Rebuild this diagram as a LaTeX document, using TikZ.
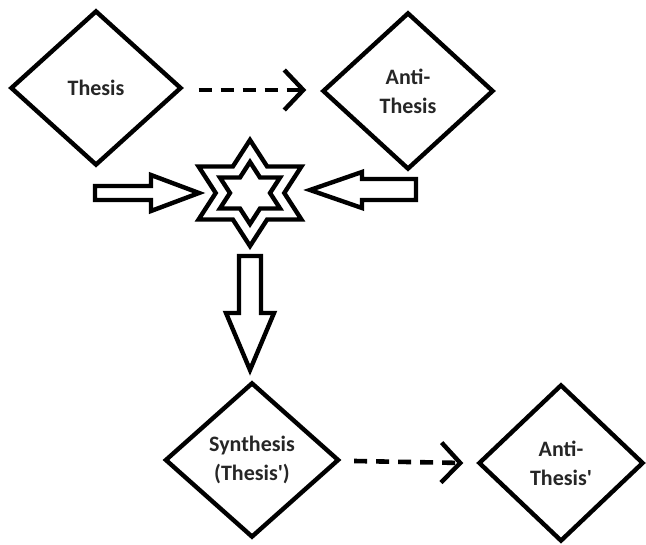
\documentclass[tikz,border=0pt]{standalone}
\usepackage{fontspec}
\setmainfont{Carlito}[Ligatures=TeXOff]
\usetikzlibrary{arrows.meta,shapes.geometric,calc}
\begin{document}
\begin{tikzpicture}[x=1pt,y=-1pt,
  dia/.style={diamond,draw=black,line width=4.4pt,inner sep=0pt,align=center,
    font=\fontsize{22}{29}\selectfont\bfseries,text=black!85},
  dasharrow/.style={line width=4.6pt,dash pattern=on 13pt off 9pt,
    -{Straight Barb[length=19pt,width=40pt,line width=4.4pt]}},
  blockarrow/.style={draw=black,line width=4.4pt,fill=white,line join=miter},
  starline/.style={draw=black,line width=4.4pt,line join=miter}]
\useasboundingbox (0,0) rectangle (646,545);
\node[dia,minimum width=171pt,minimum height=155pt] (thesis) at (96,88) {Thesis};
\node[dia,minimum width=171pt,minimum height=157pt] (anti) at (408,91) {Anti-\\Thesis};
\node[dia,minimum width=174pt,minimum height=155pt] (synth) at (252,460) {Synthesis\\(Thesis')};
\node[dia,minimum width=165pt,minimum height=157pt] (anti2) at (561,463) {Anti-\\Thesis'};
\draw[dasharrow] ($(thesis.east)+(15,2)$) coordinate (d1s) -- ($(anti.west)+(-14,-1)$) coordinate (d1e);
\draw[dasharrow] ($(synth.east)+(13,1)$) coordinate (d2s) -- ($(anti2.west)+(-13,0)$) coordinate (d2e);
% star
\node[inner sep=0pt,minimum size=0pt] (star) at (250,193) {};
\begin{scope}[shift={(star)},xscale=1.12]
  \draw[starline] (90:53) -- (120:30.6) -- (150:53) -- (180:30.6) -- (210:53) -- (240:30.6)
    -- (270:53) -- (300:30.6) -- (330:53) -- (0:30.6) -- (30:53) -- (60:30.6) -- cycle;
  \draw[starline] (90:31) -- (120:17.9) -- (150:31) -- (180:17.9) -- (210:31) -- (240:17.9)
    -- (270:31) -- (300:17.9) -- (330:31) -- (0:17.9) -- (30:31) -- (60:17.9) -- cycle;
\end{scope}
% block arrows
\draw[blockarrow] (95,186) -- (151,186) -- (151,175) -- (199,193) -- (151,211) -- (151,200) -- (95,200) -- cycle;
\draw[blockarrow] (416,179) -- (362,179) -- (362,172) -- (310,190) -- (362,208) -- (362,200) -- (416,200) -- cycle;
\draw[blockarrow] (239,256) -- (261,256) -- (261,313) -- (274,313) -- (250,370) -- (226,313) -- (239,313) -- cycle;
\end{tikzpicture}
\end{document}
